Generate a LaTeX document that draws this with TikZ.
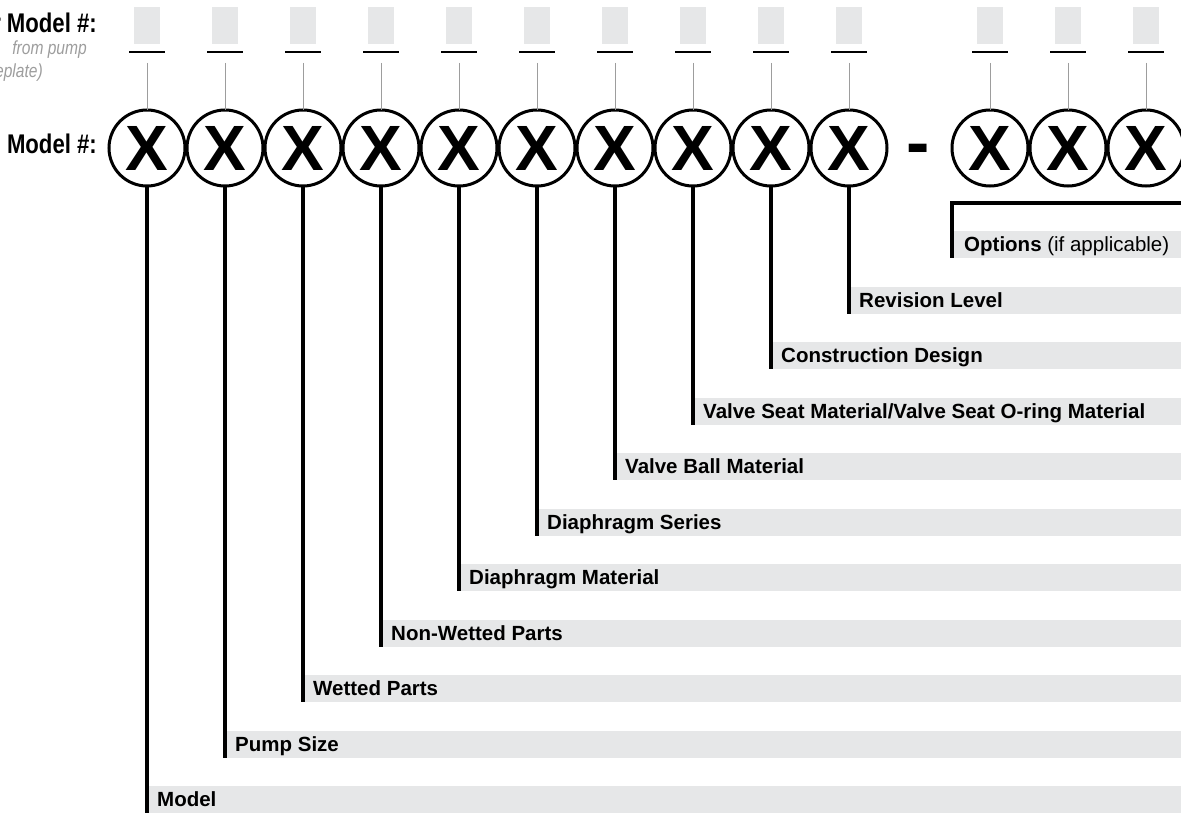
\documentclass[tikz,border=0pt]{standalone}
\usepackage{fontspec}
\setmainfont{Liberation Sans}
\newfontfamily\narrowsf[FakeStretch=0.82]{Liberation Sans}
\usetikzlibrary{positioning}
\definecolor{barfill}{HTML}{E6E7E8}
\definecolor{tickgray}{HTML}{9D9D9D}

\begin{document}
\begin{tikzpicture}[
		x=1pt, y=-1pt
		,digit/.style={draw, circle, line width=3pt, minimum size=76pt, inner sep=0pt, outer sep=0pt, font=\fontsize{64}{64}\selectfont\bfseries}
		,dashmark/.style={inner sep=0pt, anchor=base, font=\fontsize{70}{70}\selectfont\bfseries}
		,blank/.style={fill=barfill, minimum width=26pt, minimum height=37pt, inner sep=0pt, outer sep=0pt}
		,uline/.style={line width=2.5pt}
		,tick/.style={draw=tickgray, line width=1pt}
		,lead/.style={line width=4pt}
		,bar/.style={fill=barfill, minimum height=27pt, inner sep=0pt, outer sep=0pt, anchor=south west}
		,lbl/.style={font=\fontsize{20.5}{24}\selectfont, inner sep=0pt, text height=14.5pt, text depth=0pt}
		,head/.style={font=\narrowsf\fontsize{27}{30}\selectfont\bfseries, inner sep=0pt, anchor=base east}
		,hint/.style={font=\narrowsf\fontsize{19}{23}\selectfont\itshape, text=tickgray, inner sep=0pt, anchor=base east}
	]
		\useasboundingbox (0,0) rectangle (1181,813);

		% model number digits
		\node[digit] (A) at (147,148) {X};
		\node[digit, right=2pt of A] (B) {X};
		\node[digit, right=2pt of B] (C) {X};
		\node[digit, right=2pt of C] (D) {X};
		\node[digit, right=2pt of D] (E) {X};
		\node[digit, right=2pt of E] (F) {X};
		\node[digit, right=2pt of F] (G) {X};
		\node[digit, right=2pt of G] (H) {X};
		\node[digit, right=2pt of H] (I) {X};
		\node[digit, right=2pt of I] (J) {X};
		\node[dashmark] (dash) at (918,167) {-};
		\node[digit, right=65pt of J] (K) {X};
		\node[digit, right=2pt of K] (L) {X};
		\node[digit, right=2pt of L] (M) {X};

		\node[head] (your) at (97,33) {Your Model \#:};
		\node[hint] (pump) at (87,55) {from pump};
		\node[hint] (plate) at (43,78) {nameplate)};
		\node[head] (mnum) at (97,154) {Model \#:};

		% blanks to fill in
		\foreach \c in {A,B,C,D,E,F,G,H,I,J,K,L,M} {
			\node[blank, above=66pt of \c] (t\c) {};
			\draw[uline] ([xshift=-18pt, yshift=-8pt]t\c.south) -- ++(36pt,0);
			\draw[tick] ([yshift=-19pt]t\c.south) -- (\c.north);
		}

		% legend bars
		\node[bar, minimum width=1034pt] (mdl) at (A |- 0,813) {};
		\node[bar, minimum width=956pt] (size) at (B |- 0,757.5) {};
		\node[bar, minimum width=878pt] (wet) at (C |- 0,702) {};
		\node[bar, minimum width=800pt] (nonwet) at (D |- 0,646.5) {};
		\node[bar, minimum width=722pt] (dmat) at (E |- 0,591) {};
		\node[bar, minimum width=644pt] (dser) at (F |- 0,535.5) {};
		\node[bar, minimum width=566pt] (ball) at (G |- 0,480) {};
		\node[bar, minimum width=488pt] (seat) at (H |- 0,424.5) {};
		\node[bar, minimum width=410pt] (cons) at (I |- 0,369) {};
		\node[bar, minimum width=332pt] (rev) at (J |- 0,313.5) {};
		\node[bar, minimum width=230pt] (opt) at (K.west |- 0,258) {};

		\node[lbl, right=10pt of mdl.west] {\textbf{Model}};
		\node[lbl, right=10pt of size.west] {\textbf{Pump Size}};
		\node[lbl, right=10pt of wet.west] {\textbf{Wetted Parts}};
		\node[lbl, right=10pt of nonwet.west] {\textbf{Non-Wetted Parts}};
		\node[lbl, right=10pt of dmat.west] {\textbf{Diaphragm Material}};
		\node[lbl, right=10pt of dser.west] {\textbf{Diaphragm Series}};
		\node[lbl, right=10pt of ball.west] {\textbf{Valve Ball Material}};
		\node[lbl, right=10pt of seat.west] {\textbf{Valve Seat Material/Valve Seat O-ring Material}};
		\node[lbl, right=10pt of cons.west] {\textbf{Construction Design}};
		\node[lbl, right=10pt of rev.west] {\textbf{Revision Level}};
		\node[lbl, right=12pt of opt.west] {\textbf{Options} (if applicable)};

		\draw[lead] (A.south) -- (mdl.south west);
		\draw[lead] (B.south) -- (size.south west);
		\draw[lead] (C.south) -- (wet.south west);
		\draw[lead] (D.south) -- (nonwet.south west);
		\draw[lead] (E.south) -- (dmat.south west);
		\draw[lead] (F.south) -- (dser.south west);
		\draw[lead] (G.south) -- (ball.south west);
		\draw[lead] (H.south) -- (seat.south west);
		\draw[lead] (I.south) -- (cons.south west);
		\draw[lead] (J.south) -- (rev.south west);
		\coordinate (oe) at (1181,203);
		\draw[lead] (opt.south west) |- (oe);
	\end{tikzpicture}
\end{document}
